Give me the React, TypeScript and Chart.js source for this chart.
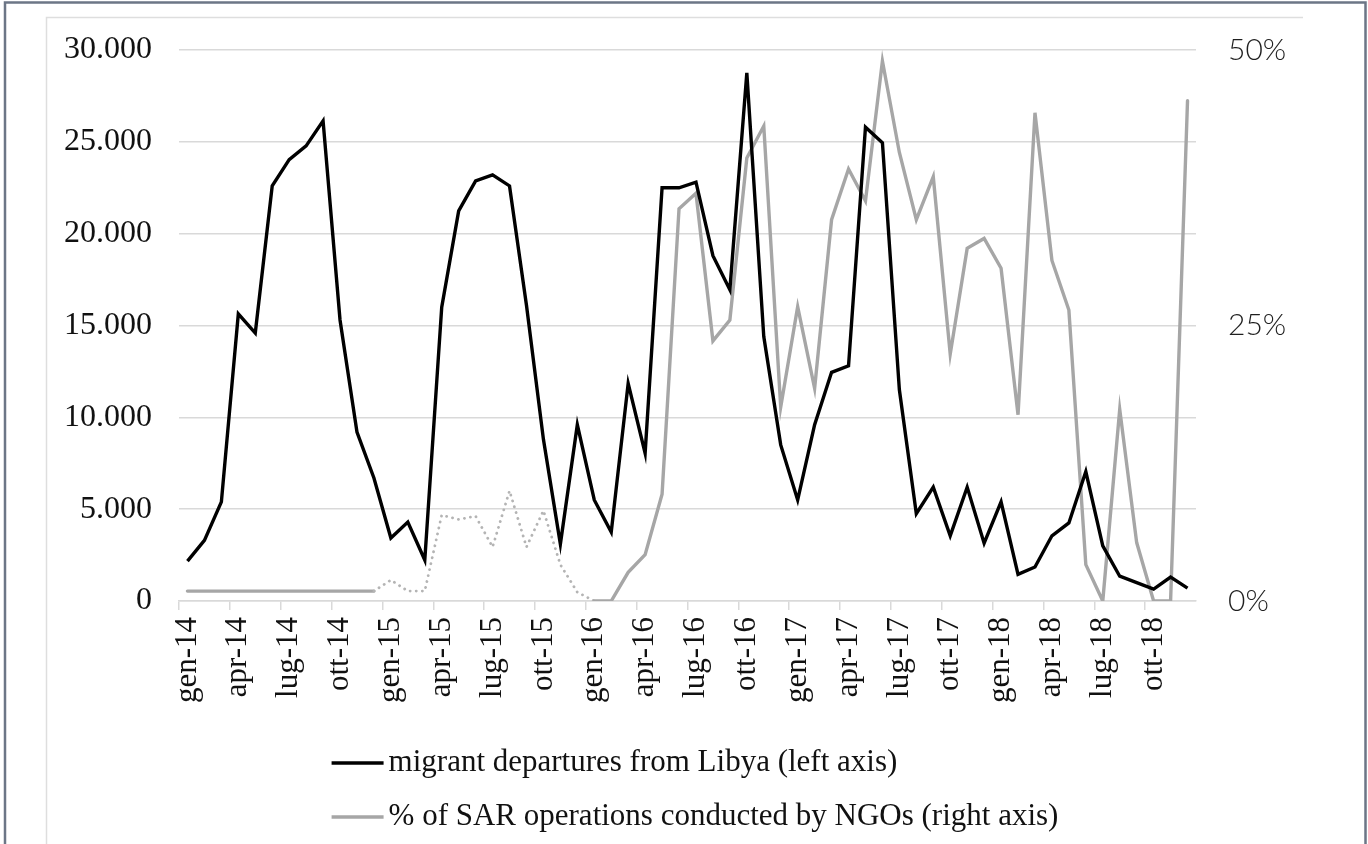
import React, { useEffect, useRef } from "react";
import { Chart, registerables } from "chart.js";

Chart.register(...registerables);

const months: string[] = [
  "gen-14", "feb-14", "mar-14", "apr-14", "mag-14", "giu-14", "lug-14", "ago-14", "set-14", "ott-14", "nov-14", "dic-14",
  "gen-15", "feb-15", "mar-15", "apr-15", "mag-15", "giu-15", "lug-15", "ago-15", "set-15", "ott-15", "nov-15", "dic-15",
  "gen-16", "feb-16", "mar-16", "apr-16", "mag-16", "giu-16", "lug-16", "ago-16", "set-16", "ott-16", "nov-16", "dic-16",
  "gen-17", "feb-17", "mar-17", "apr-17", "mag-17", "giu-17", "lug-17", "ago-17", "set-17", "ott-17", "nov-17", "dic-17",
  "gen-18", "feb-18", "mar-18", "apr-18", "mag-18", "giu-18", "lug-18", "ago-18", "set-18", "ott-18", "nov-18", "dic-18",
];

const departures: number[] = [
  2170, 3300, 5400, 15630, 14590, 22600, 24030, 24780, 26140, 15300, 9200, 6700,
  3430, 4300, 2230, 16000, 21240, 22870, 23200, 22600, 16100, 8800, 3100, 9600,
  5500, 3750, 11850, 8050, 22500, 22500, 22800, 18800, 16950, 28750, 14400, 8500,
  5500, 9600, 12450, 12800, 25800, 24950, 11500, 4750, 6200, 3550, 6200, 3150,
  5400, 1450, 1850, 3550, 4250, 7050, 3000, 1350, 1000, 650, 1300, 700,
];

const ngoShare: number[] = [
  0.9, 0.9, 0.9, 0.9, 0.9, 0.9, 0.9, 0.9, 0.9, 0.9, 0.9, 0.9,
  1.9, 0.9, 0.9, 7.8, 7.4, 7.7, 4.9, 10.0, 4.9, 8.2, 3.3, 0.8,
  0, 0, 2.6, 4.2, 9.7, 35.6, 37.0, 23.6, 25.5, 40.2, 43.1, 17.6,
  26.7, 19.3, 34.6, 39.2, 36.3, 49.0, 40.7, 34.6, 38.5, 22.4, 32.0, 32.9,
  30.2, 16.9, 44.3, 30.9, 26.4, 3.3, 0, 17.4, 5.3, 0, 0, 45.4,
];

// indices of the ngo series drawn dotted (estimated values)
const estimatedFrom = 11;
const estimatedTo = 24;

const leftTicks: number[] = [0, 5000, 10000, 15000, 20000, 25000, 30000];
const rightTicks: number[] = [0, 25, 50];

const legendLabels: string[] = [
  "migrant departures from Libya (left axis)",
  "% of SAR operations conducted by NGOs (right axis)",
];

const BLACK = "#000000";
const GREY = "#a6a6a6";
const DOT_GREY = "#b4b4b4";
const GRID = "#d9d9d9";
const SERIF = "'Liberation Serif', 'Times New Roman', serif";

const fmtThousands = (v: number) => String(Math.round(v)).replace(/\B(?=(\d{3})+(?!\d))/g, ".");

const framePlugin = {
  id: "frame",
  beforeDraw(chart: any) {
    const { ctx, width, height } = chart;
    ctx.save();
    ctx.fillStyle = "#ffffff";
    ctx.fillRect(0, 0, width, height);
    // inner light frame
    ctx.strokeStyle = "#dedede";
    ctx.lineWidth = 1.5;
    ctx.beginPath();
    ctx.moveTo(46.5, height);
    ctx.lineTo(46.5, 17.5);
    ctx.lineTo(1303, 17.5);
    ctx.stroke();
    // outer dark frame
    ctx.strokeStyle = "#6c7686";
    ctx.lineWidth = 2.5;
    ctx.beginPath();
    ctx.moveTo(5, height);
    ctx.lineTo(5, 2.5);
    ctx.lineTo(width - 2.5, 2.5);
    ctx.lineTo(width - 2.5, height);
    ctx.stroke();
    ctx.restore();
  },
};

const legendPlugin = {
  id: "customLegend",
  afterDraw(chart: any) {
    const { ctx, width } = chart;
    ctx.save();
    ctx.font = `31px ${SERIF}`;
    ctx.textBaseline = "middle";
    ctx.fillStyle = "#111111";
    const lineLen = 52;
    const gap = 5;
    const widths = legendLabels.map((t) => ctx.measureText(t).width + lineLen + gap);
    const blockW = Math.max(...widths);
    const centerX = (width + 22) / 2;
    const left = centerX - blockW / 2;
    const rows = [763, 817];
    const colors = [BLACK, GREY];
    legendLabels.forEach((t, i) => {
      ctx.strokeStyle = colors[i];
      ctx.lineWidth = 3.5;
      ctx.beginPath();
      ctx.moveTo(left, rows[i]);
      ctx.lineTo(left + lineLen, rows[i]);
      ctx.stroke();
      ctx.fillText(t, left + lineLen + gap, rows[i]);
    });
    ctx.restore();
  },
};

export default function App() {
  const ref = useRef<HTMLCanvasElement | null>(null);

  useEffect(() => {
    document.body.style.margin = "0";
    const canvas = ref.current;
    if (!canvas) return;
    const isEst = (ctx: any) => ctx.p0DataIndex >= estimatedFrom && ctx.p1DataIndex <= estimatedTo;
    const chart = new Chart(canvas, {
      type: "line",
      data: {
        labels: months,
        datasets: [
          {
            label: legendLabels[0],
            data: departures,
            yAxisID: "y",
            borderColor: BLACK,
            borderWidth: 3.4,
            pointRadius: 0,
            tension: 0,
            borderJoinStyle: "miter",
          },
          {
            label: legendLabels[1],
            data: ngoShare,
            yAxisID: "y1",
            borderColor: GREY,
            borderWidth: 3.4,
            pointRadius: 0,
            tension: 0,
            borderCapStyle: "round",
            segment: {
              borderDash: (ctx: any) => (isEst(ctx) ? [0.1, 6] : undefined),
              borderColor: (ctx: any) => (isEst(ctx) ? DOT_GREY : undefined),
              borderWidth: (ctx: any) => (isEst(ctx) ? 2.8 : undefined),
            },
          },
        ],
      },
      options: {
        responsive: false,
        animation: false,
        events: [],
        layout: { padding: { top: 50, left: 0, right: 0, bottom: 0 } },
        plugins: {
          legend: { display: false },
          tooltip: { enabled: false },
        },
        scales: {
          x: {
            type: "category",
            offset: true,
            afterFit: (scale: any) => {
              scale.height = 243;
            },
            grid: {
              offset: true,
              drawOnChartArea: false,
              drawTicks: true,
              tickLength: 9,
              lineWidth: 1.5,
              color: (ctx: any) => (ctx.index % 3 === 0 ? GRID : "rgba(0,0,0,0)"),
            },
            border: { display: true, color: GRID, width: 1.5 },
            ticks: {
              autoSkip: false,
              maxRotation: 90,
              minRotation: 90,
              padding: 7,
              color: "#111111",
              font: { family: SERIF, size: 31 },
              callback: (_v: any, i: number) => (i % 3 === 0 ? months[i] : ""),
            },
          },
          y: {
            position: "left",
            min: leftTicks[0],
            max: leftTicks[leftTicks.length - 1],
            afterFit: (scale: any) => {
              scale.width = 179;
            },
            afterBuildTicks: (scale: any) => {
              scale.ticks = leftTicks.map((v) => ({ value: v }));
            },
            grid: { color: GRID, lineWidth: 1.5, drawTicks: false },
            border: { display: false },
            ticks: {
              padding: 27,
              color: "#111111",
              font: { family: SERIF, size: 32 },
              callback: (v: any) => fmtThousands(Number(v)),
            },
          },
          y1: {
            position: "right",
            min: rightTicks[0],
            max: rightTicks[rightTicks.length - 1],
            afterFit: (scale: any) => {
              scale.width = 172;
            },
            afterBuildTicks: (scale: any) => {
              scale.ticks = rightTicks.map((v) => ({ value: v }));
            },
            grid: { display: false, drawTicks: false },
            border: { display: false },
            ticks: {
              padding: 32,
              color: "#1f1f1f",
              font: { family: "Lato, 'DejaVu Sans', sans-serif", size: 30, weight: "300" as any },
              callback: (v: any) => `${v}%`,
            },
          },
        },
      },
      plugins: [framePlugin, legendPlugin],
    });
    return () => chart.destroy();
  }, []);

  return (
    <div style={{ width: 1368, height: 844 }}>
      <canvas ref={ref} width={1368} height={844} style={{ display: "block" }} />
    </div>
  );
}
